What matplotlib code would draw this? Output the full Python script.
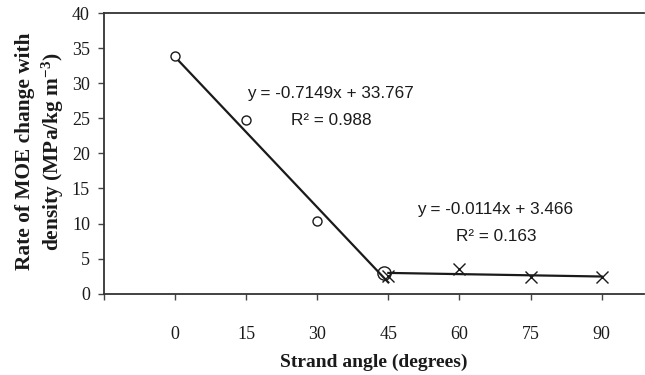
import numpy as np
import matplotlib.pyplot as plt

plt.rcParams["mathtext.fontset"] = "custom"
plt.rcParams["mathtext.rm"] = "Liberation Serif:bold"
plt.rcParams["mathtext.it"] = "Liberation Serif:italic:bold"
plt.rcParams["mathtext.bf"] = "Liberation Serif:bold"

# Data
angle_fit1 = [0, 15, 30, 44]          # strand angle (degrees), circles
rate_fit1 = [33.9, 24.7, 10.4, 3.0]   # MPa/kg m^-3
angle_fit2 = [45, 60, 75, 90]         # crosses
rate_fit2 = [2.5, 3.5, 2.4, 2.4]

# Trend line coefficients (slope, intercept) and R^2
fit1 = (-0.7149, 33.767, 0.988)
fit2 = (-0.0114, 3.466, 0.163)
fit1_range = [0, 45]
fit2_range = [45, 90]

tick_angles = [-15, 0, 15, 30, 45, 60, 75, 90]
tick_labels = ["", "0", "15", "30", "45", "60", "75", "90"]

serif = ["Liberation Serif", "DejaVu Serif"]
sans = ["Liberation Sans", "DejaVu Sans"]
ink = "#1a1a1a"

fig = plt.figure(figsize=(6.45, 3.75), dpi=100)
ax = fig.add_axes([0.161, 0.217, 0.838, 0.748])

# trend lines
for (m, b, r2), xr in [(fit1, fit1_range), (fit2, fit2_range)]:
    xs = np.array(xr, dtype=float)
    ax.plot(xs, m * xs + b, color=ink, lw=1.6, zorder=2)

# observed points
ax.plot(angle_fit1[:3], rate_fit1[:3], "o", ms=6.5, mfc="white", mec=ink, mew=1.0, zorder=3)
ax.plot(angle_fit1[3:], rate_fit1[3:], "o", ms=9.5, mfc="none", mec=ink, mew=1.0, zorder=3)
ax.plot(angle_fit2, rate_fit2, "x", ms=8, mec=ink, mew=1.0, zorder=3)

# equations
eq_style = dict(ha="center", va="center", fontsize=12.3, family=sans, color=ink)
ax.text(32.7, 28.5, f"y = {fit1[0]}x + {fit1[1]}", **eq_style)
ax.text(33.0, 24.7, f"R\u00b2 = {fit1[2]}", **eq_style)
ax.text(67.6, 12.0, f"y = {fit2[0]}x + {fit2[1]}", **eq_style)
ax.text(67.8, 8.1, f"R\u00b2 = {fit2[2]}", **eq_style)

ax.set_xlim(-15, 99)
ax.set_ylim(0, 40)
ax.set_xticks(tick_angles)
ax.set_xticklabels(tick_labels)
ax.set_yticks(range(0, 41, 5))

for lab in ax.get_xticklabels() + ax.get_yticklabels():
    lab.set_family(serif)
    lab.set_fontsize(13)
    lab.set_color(ink)

ax.tick_params(axis="both", direction="out", length=4, width=1, color="#444444")
ax.tick_params(axis="x", pad=19)
ax.tick_params(axis="y", pad=6)

for side in ["left", "bottom", "top"]:
    ax.spines[side].set_color("#333333")
    ax.spines[side].set_linewidth(1.3)
ax.spines["right"].set_visible(False)

ax.set_xlabel("Strand angle (degrees)", fontsize=14, fontweight="bold",
              family=serif, color=ink, labelpad=8)
ax.set_ylabel("Rate of MOE change with\ndensity (MPa/kg m$^{-3}$)", fontsize=15.4,
              fontweight="bold", family=serif, color=ink,
              linespacing=1.25, va="center", ha="center")
ax.yaxis.set_label_coords(-0.117, 0.507)

fig.savefig("out.png", dpi=100)
